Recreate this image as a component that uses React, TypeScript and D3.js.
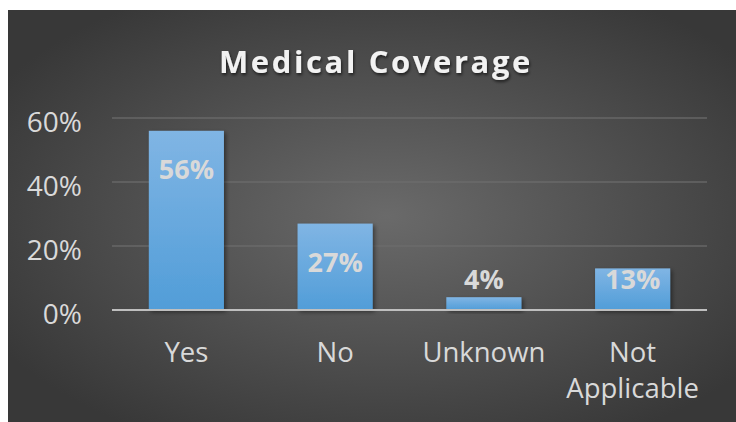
import React from "react";
import * as d3 from "d3";

const categories = ["Yes", "No", "Unknown", "Not Applicable"];
const values = [0.56, 0.27, 0.04, 0.13];
const yTicks = [0, 0.2, 0.4, 0.6];
const title = "Medical Coverage";

const W = 736;
const H = 422;
const plot = { left: 112, right: 707, top: 118, bottom: 310 };

export default function App() {
  const x = d3
    .scaleBand<string>()
    .domain(categories)
    .range([plot.left, plot.right])
    .paddingInner(0.495)
    .paddingOuter(0.2475);
  const y = d3.scaleLinear().domain([0, 0.6]).range([plot.bottom, plot.top]);
  const fmt = d3.format(".0%");
  const font = "'Open Sans', 'Noto Sans', sans-serif";

  return (
    <svg
      width={W}
      height={H}
      style={{ position: "absolute", left: 0, top: 0 }}
    >
      <defs>
        <radialGradient id="bg" cx="0.52" cy="0.5" r="0.62" fx="0.52" fy="0.5">
          <stop offset="0" stopColor="#6a6a6a" />
          <stop offset="1" stopColor="#383838" />
        </radialGradient>
        <linearGradient id="bar" x1="0" y1="0" x2="0" y2="1">
          <stop offset="0" stopColor="#80b5e4" />
          <stop offset="1" stopColor="#519dd8" />
        </linearGradient>
        <filter id="shadow" x="-20%" y="-20%" width="150%" height="150%">
          <feDropShadow dx="2" dy="2" stdDeviation="2" floodColor="#000" floodOpacity="0.45" />
        </filter>
        <filter id="tshadow" x="-10%" y="-30%" width="120%" height="170%">
          <feDropShadow dx="1" dy="2" stdDeviation="1.5" floodColor="#000" floodOpacity="0.6" />
        </filter>
      </defs>
      <rect x={8} y={10} width={W - 8} height={H - 10} fill="url(#bg)" />

      <text
        x={376}
        y={73}
        textAnchor="middle"
        fill="#f2f2f2"
        fontFamily={font}
        fontWeight={700}
        fontSize={31}
        letterSpacing={2.6}
        filter="url(#tshadow)"
      >
        {title}
      </text>

      {yTicks.map((t) => (
        <g key={t}>
          {t > 0 && (
            <line
              x1={plot.left}
              x2={plot.right}
              y1={y(t)}
              y2={y(t)}
              stroke="#6e6e6e"
              strokeWidth={1.5}
              opacity={0.8}
            />
          )}
          <text
            x={82}
            y={y(t)}
            dy="0.5em"
            textAnchor="end"
            fill="#d9d9d9"
            fontFamily={font}
            fontSize={28}
          >
            {fmt(t)}
          </text>
        </g>
      ))}

      {categories.map((c, i) => {
        const v = values[i];
        const bx = x(c)!;
        const by = y(v);
        const bh = plot.bottom - by;
        const ly = Math.min(by + 48, 289);
        const words = c.split(" ");
        return (
          <g key={c}>
            <rect
              x={bx}
              y={by}
              width={x.bandwidth()}
              height={bh}
              fill="url(#bar)"
              filter="url(#shadow)"
            />
            <text
              x={bx + x.bandwidth() / 2}
              y={ly}
              textAnchor="middle"
              fill="#d9d9d9"
              fontFamily={font}
              fontWeight={700}
              fontSize={27}
            >
              {fmt(v)}
            </text>
            {words.map((w, k) => (
              <text
                key={w}
                x={bx + x.bandwidth() / 2}
                y={362 + k * 36}
                textAnchor="middle"
                fill="#d9d9d9"
                fontFamily={font}
                fontSize={27.5}
              >
                {w}
              </text>
            ))}
          </g>
        );
      })}

      <line
        x1={plot.left}
        x2={plot.right}
        y1={plot.bottom}
        y2={plot.bottom}
        stroke="#bfbfbf"
        strokeWidth={2}
      />
    </svg>
  );
}
